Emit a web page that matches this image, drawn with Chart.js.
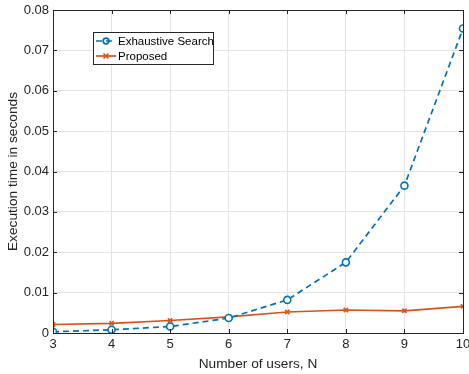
<!DOCTYPE html>
<html>
<head>
<meta charset="utf-8">
<script src="https://cdn.jsdelivr.net/npm/chart.js@4/dist/chart.umd.min.js"></script>
<style>
  html, body { margin: 0; padding: 0; background: #fff; }
  #wrap { width: 469px; height: 374px; }
</style>
</head>
<body>
<div id="wrap"><canvas id="myChart" width="469" height="374"></canvas></div>
<script>
// number of users N
const users = [3, 4, 5, 6, 7, 8, 9, 10];
// execution time in seconds
const exhaustiveData = [0.0003, 0.0008, 0.0016, 0.0037, 0.0082, 0.0175, 0.0365, 0.0754];
const proposedData = [0.0021, 0.0024, 0.0031, 0.0040, 0.0052, 0.0057, 0.0055, 0.0066];
const yTicks = [0, 0.01, 0.02, 0.03, 0.04, 0.05, 0.06, 0.07, 0.08];

const blue = '#0072BD';
const orange = '#D95319';
const axisColor = '#262626';
const font = "'Liberation Sans', Arial, sans-serif";

// draws the box around the axes and the inward ticks, like matlab
const frameTicks = {
    id: 'frameTicks',
    afterDraw(chart) {
        const c = chart.ctx;
        const a = chart.chartArea;
        const xs = chart.scales.x, ys = chart.scales.y;
        c.save();
        c.strokeStyle = axisColor;
        c.lineWidth = 1;
        c.beginPath();
        users.forEach(function (u) {
            const px = Math.round(xs.getPixelForValue(u)) + 0.5;
            c.moveTo(px, a.bottom); c.lineTo(px, a.bottom - 4);
            c.moveTo(px, a.top); c.lineTo(px, a.top + 4);
        });
        yTicks.forEach(function (v) {
            const py = Math.round(ys.getPixelForValue(v)) + 0.5;
            c.moveTo(a.left, py); c.lineTo(a.left + 4, py);
            c.moveTo(a.right, py); c.lineTo(a.right - 4, py);
        });
        c.stroke();
        c.strokeRect(Math.round(a.left) + 0.5, Math.round(a.top) + 0.5,
            Math.round(a.right - a.left), Math.round(a.bottom - a.top));
        c.restore();
    }
};

// legend box inside the plot, top left
const boxLegend = {
    id: 'boxLegend',
    afterDraw(chart) {
        const c = chart.ctx;
        const x0 = 93, y0 = 32, w = 120, h = 32;
        c.save();
        c.fillStyle = '#fff';
        c.fillRect(x0, y0, w, h);
        c.strokeStyle = axisColor;
        c.lineWidth = 1;
        c.strokeRect(x0 + 0.5, y0 + 0.5, w, h);
        c.font = '11.5px ' + font;
        c.textBaseline = 'middle';
        chart.data.datasets.forEach(function (ds, i) {
            const yy = y0 + 9 + i * 15;
            c.strokeStyle = ds.borderColor;
            c.lineWidth = 1.7;
            c.setLineDash(ds.borderDash || []);
            c.beginPath();
            c.moveTo(x0 + 3, yy); c.lineTo(x0 + 23, yy);
            c.stroke();
            c.setLineDash([]);
            c.beginPath();
            if (ds.pointStyle === 'circle') {
                c.arc(x0 + 13, yy, 2.8, 0, Math.PI * 2);
            } else {
                c.moveTo(x0 + 10.5, yy - 2.5); c.lineTo(x0 + 15.5, yy + 2.5);
                c.moveTo(x0 + 15.5, yy - 2.5); c.lineTo(x0 + 10.5, yy + 2.5);
            }
            c.stroke();
            c.fillStyle = '#000';
            c.fillText(ds.label, x0 + 25, yy + 1);
        });
        c.restore();
    }
};

const ctx = document.getElementById('myChart').getContext('2d');
const chart = new Chart(ctx, {
    type: 'line',
    data: {
        datasets: [
            {
                label: 'Exhaustive Search',
                data: users.map((u, i) => ({ x: u, y: exhaustiveData[i] })),
                borderColor: blue,
                backgroundColor: 'rgba(0,0,0,0)',
                borderWidth: 1.7,
                borderDash: [6, 4],
                pointStyle: 'circle',
                pointRadius: 3.5,
                pointBorderWidth: 1.6,
                pointBorderColor: blue,
                pointBackgroundColor: '#fff',
                tension: 0
            },
            {
                label: 'Proposed',
                data: users.map((u, i) => ({ x: u, y: proposedData[i] })),
                borderColor: orange,
                backgroundColor: orange,
                borderWidth: 1.7,
                pointStyle: 'crossRot',
                pointRadius: 3,
                pointBorderWidth: 1.6,
                pointBorderColor: orange,
                tension: 0
            }
        ]
    },
    options: {
        responsive: false,
        animation: false,
        layout: { padding: { left: 0, right: 6, top: 10, bottom: 0 } },
        plugins: {
            legend: { display: false },
            tooltip: { enabled: false }
        },
        scales: {
            x: {
                type: 'linear',
                min: 3,
                max: 10,
                afterBuildTicks: function (scale) {
                    scale.ticks = users.map(v => ({ value: v }));
                },
                afterFit: function (scale) {
                    scale.height = 41;
                    scale.paddingLeft = 0;
                    scale.paddingRight = 0;
                },
                grid: { color: '#e3e3e3', drawTicks: false },
                border: { display: false },
                ticks: {
                    color: axisColor,
                    font: { family: font, size: 13 },
                    padding: 4,
                    maxRotation: 0
                },
                title: {
                    display: true,
                    text: 'Number of users, N',
                    color: axisColor,
                    font: { family: font, size: 13.7 },
                    padding: { top: 0, bottom: 2 }
                }
            },
            y: {
                min: 0,
                max: 0.08,
                afterBuildTicks: function (scale) {
                    scale.ticks = yTicks.map(v => ({ value: v }));
                },
                afterFit: function (scale) {
                    scale.width = 53;
                    scale.paddingTop = 0;
                    scale.paddingBottom = 0;
                },
                grid: { color: '#e3e3e3', drawTicks: false },
                border: { display: false },
                ticks: {
                    color: axisColor,
                    font: { family: font, size: 13 },
                    padding: 4,
                    callback: function (value) {
                        return value === 0 ? '0' : value.toFixed(2);
                    }
                },
                title: {
                    display: true,
                    text: 'Execution time in seconds',
                    color: axisColor,
                    font: { family: font, size: 13.7 },
                    padding: { top: 5, bottom: 0 }
                }
            }
        }
    },
    plugins: [frameTicks, boxLegend]
});
</script>
</body>
</html>
